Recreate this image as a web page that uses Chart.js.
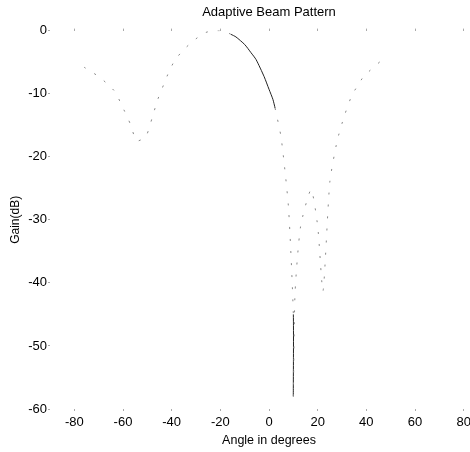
<!DOCTYPE html>
<html><head><meta charset="utf-8">
<script src="https://cdn.jsdelivr.net/npm/chart.js@4"></script>
<style>html,body{margin:0;padding:0;background:#fff;overflow:hidden}#wrap{width:470px;height:452px;overflow:hidden}</style>
</head><body><div id="wrap"><canvas id="c" width="490" height="452"></canvas></div>
<script>
const angles = [-76,-74,-69.5,-65.8,-63,-61.3,-59.7,-57,-54.5,-52,-50.2,-48,-45.7,-43,-41.2,-38.7,-35,-31,-26.7,-23,-19,-15.6,-13.6,-10,-7.4,-5.3,-2,0,1.6,2.5,5,8,10,10,10.7,13,17.3,20,22.2,25,28,30.9,34,36,39,41,46];
const gainDb = [-5.8,-6.3,-7.4,-8.7,-9.8,-11.2,-12.5,-14.8,-17.5,-17.2,-16.5,-13.8,-10.9,-8.3,-6.6,-4.7,-3.0,-1.6,-0.4,0,0,-0.6,-1.0,-2.2,-3.5,-4.6,-7.3,-9.3,-10.9,-12.3,-17,-28,-45,-58,-41.6,-31,-25.2,-31,-41.3,-24,-17.5,-13.6,-10.3,-9.0,-7.2,-6.5,-4.8];
const xTicks = [-80,-60,-40,-20,0,20,40,60,80];
const yTicks = [0,-10,-20,-30,-40,-50,-60];

const pts = angles.map((a,i)=>({x:a,y:gainDb[i]}));
const solid = ctx => {
  const a = ctx.p0.parsed.x, b = ctx.p1.parsed.x;
  return (a >= -17 && b <= 2.5) || (a === 10 && b === 10);
};
const fam = '"Liberation Sans", Arial, sans-serif';
const font = {family:fam, size:13};
new Chart(document.getElementById('c'), {
  type:'line',
  data:{datasets:[{data:pts, borderWidth:1, pointRadius:0, tension:0.2, fill:false,
    borderColor:'#222',
    segment:{
      borderDash: ctx => solid(ctx) ? [] : [2,10],
      borderColor: ctx => solid(ctx) ? '#222' : '#888'
    }}]},
  options:{
    responsive:false, animation:false,
    layout:{padding:{left:0,right:2,top:0,bottom:0}},
    plugins:{legend:{display:false}, tooltip:{enabled:false},
      title:{display:true, text:'Adaptive Beam Pattern', fullSize:false, color:'#000',
        font:{family:fam, size:13, weight:'normal'}, padding:{top:5,bottom:8}}},
    scales:{
      x:{type:'linear', min:-90, max:90,
        afterBuildTicks: s => { s.ticks = xTicks.map(v=>({value:v})); },
        afterFit: s => { s.height = 43; },
        border:{display:false},
        grid:{drawOnChartArea:false, drawTicks:true, tickLength:2, color:'#aaa'},
        ticks:{color:'#000', font, padding:4, maxRotation:0},
        title:{display:true, text:'Angle in degrees', color:'#000', font:{family:fam,size:12.5}, padding:{top:0,bottom:4}}},
      x2:{type:'linear', position:'top', min:-90, max:90,
        afterBuildTicks: s => { s.ticks = xTicks.map(v=>({value:v})); },
        afterFit: s => { s.height = 2; },
        border:{display:false},
        grid:{drawOnChartArea:false, drawTicks:true, tickLength:2, color:'#aaa'},
        ticks:{display:false}},
      y:{type:'linear', min:-60, max:0,
        afterBuildTicks: s => { s.ticks = yTicks.map(v=>({value:v})); },
        afterFit: s => { s.width = 50; },
        border:{display:false},
        grid:{drawOnChartArea:false, drawTicks:true, tickLength:2, color:'#aaa'},
        ticks:{color:'#000', font, padding:1},
        title:{display:true, text:'Gain(dB)', color:'#000', font:{family:fam,size:12}, padding:{top:8,bottom:0}}}
    }
  }
});
</script></body></html>
